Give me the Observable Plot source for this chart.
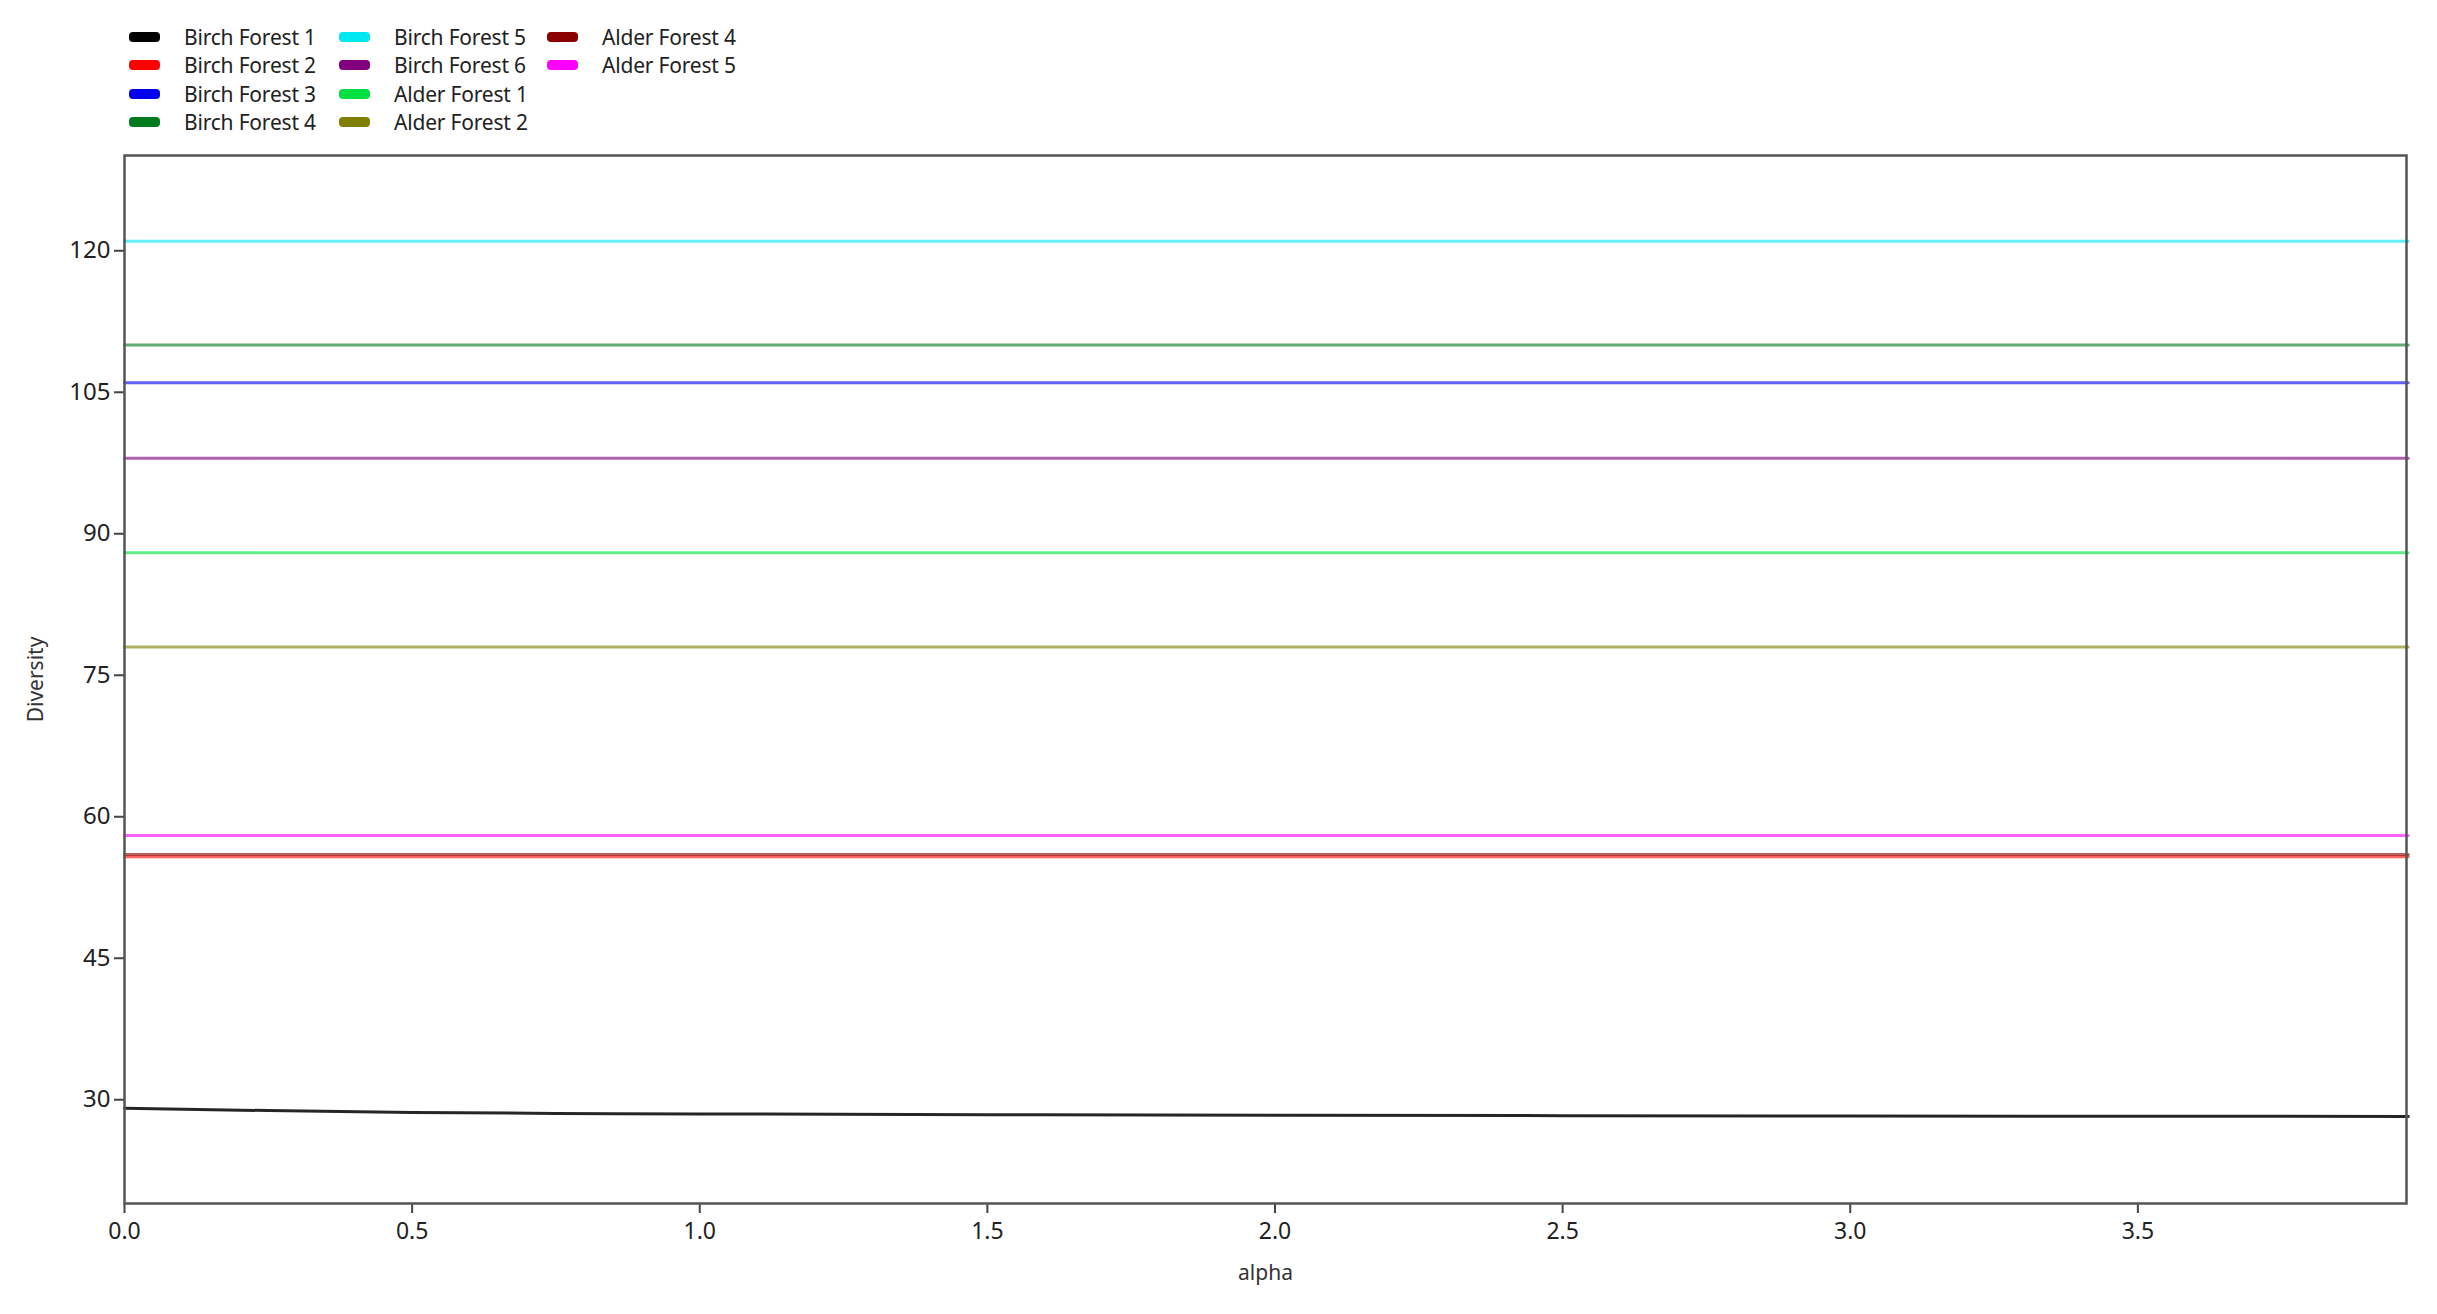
<!DOCTYPE html>
<html>
<head>
<meta charset="utf-8">
<script src="https://cdn.jsdelivr.net/npm/d3@7"></script>
<script src="https://cdn.jsdelivr.net/npm/@observablehq/plot@0.6"></script>
<style>
  html, body { margin: 0; padding: 0; background: #fff; }
  body { width: 2437px; height: 1314px; position: relative; overflow: hidden; font-family: "Noto Sans", "Open Sans", sans-serif; }
  #legend { position: absolute; z-index: 2; left: 129px; top: 23px; display: grid; grid-auto-flow: column; grid-template-rows: repeat(4, 28.3px); grid-template-columns: 210px 208px 200px; }
  .item { display: flex; align-items: center; font-size: 21px; color: #222; white-space: nowrap; letter-spacing: -0.2px; }
  .sw { width: 31px; height: 10px; border-radius: 4px; margin-right: 24px; flex: none; }
  #chart { position: absolute; z-index: 1; left: 0; top: 0; }
</style>
</head>
<body>
<div id="legend"></div>
<div id="chart"></div>
<script>
// Series names (legend order) and colors
const seriesNames = ["Birch Forest 1", "Birch Forest 2", "Birch Forest 3", "Birch Forest 4",
  "Birch Forest 5", "Birch Forest 6", "Alder Forest 1", "Alder Forest 2", "Alder Forest 4", "Alder Forest 5"];
const seriesColors = ["#000000", "#ff0000", "#0000ee", "#007a1e", "#00e8f0", "#800080",
  "#00e040", "#808000", "#8b0000", "#ff00ff"];

// alpha sample points
const alphaValues = [0, 0.25, 0.5, 0.75, 1, 1.5, 2, 2.5, 3, 3.5, 3.97];

// Birch Forest 1 diversity profile
const birch1 = [29.1, 28.85, 28.65, 28.55, 28.5, 28.42, 28.36, 28.31, 28.28, 28.25, 28.23];
// Constant profiles for the other series
const birch2 = 55.75;
const birch3 = 106;
const birch4 = 110;
const birch5 = 121;
const birch6 = 98;
const alder1 = 88;
const alder2 = 78;
const alder4 = 56;
const alder5 = 58;

const yTicks = [30, 45, 60, 75, 90, 105, 120];
const xTicks = [0, 0.5, 1, 1.5, 2, 2.5, 3, 3.5];

const constants = {
  "Birch Forest 2": birch2, "Birch Forest 3": birch3, "Birch Forest 4": birch4,
  "Birch Forest 5": birch5, "Birch Forest 6": birch6, "Alder Forest 1": alder1,
  "Alder Forest 2": alder2, "Alder Forest 4": alder4, "Alder Forest 5": alder5
};

const rows = [];
alphaValues.forEach((a, i) => rows.push({series: "Birch Forest 1", alpha: a, value: birch1[i]}));
for (const [name, v] of Object.entries(constants)) {
  alphaValues.forEach(a => rows.push({series: name, alpha: a, value: v}));
}
const drawOrder = ["Birch Forest 2", "Alder Forest 4", "Alder Forest 5", "Alder Forest 2", "Alder Forest 1",
  "Birch Forest 6", "Birch Forest 3", "Birch Forest 4", "Birch Forest 5", "Birch Forest 1"];
rows.sort((a, b) => drawOrder.indexOf(a.series) - drawOrder.indexOf(b.series));

const chart = Plot.plot({
  width: 2437,
  height: 1314,
  marginTop: 155,
  marginBottom: 111,
  marginLeft: 124,
  marginRight: 31,
  style: {fontFamily: "'Noto Sans', 'Open Sans', sans-serif", fontSize: "23px", color: "#222", background: "#fff"},
  x: {domain: [0, 3.967], ticks: xTicks, tickFormat: d3.format(".1f"), label: null},
  y: {domain: [19, 130.1], ticks: yTicks, label: null},
  color: {domain: seriesNames, range: seriesColors},
  marks: [
    Plot.line(rows, {x: "alpha", y: "value", z: "series", stroke: "series",
      strokeWidth: 3, strokeOpacity: d => d.series === "Birch Forest 1" ? 0.85 : 0.62, curve: "monotone-x"}),
    Plot.axisX({ticks: xTicks, tickFormat: d3.format(".1f"), tickSize: 10, tickPadding: 9, stroke: "#444", strokeWidth: 2, label: null, fontSize: 23}),
    Plot.axisY({ticks: yTicks, tickSize: 10, tickPadding: 4, stroke: "#444", strokeWidth: 2, label: null, fontSize: 24}),
    Plot.frame({stroke: "#555", strokeWidth: 2.5}),
    Plot.text(["alpha"], {frameAnchor: "bottom", dy: 76, fontSize: 21, fill: "#333"}),
    Plot.text(["Diversity"], {frameAnchor: "left", textAnchor: "middle", dx: -88, rotate: -90, fontSize: 21, fill: "#333"})
  ]
});
document.getElementById("chart").appendChild(chart);

const legend = document.getElementById("legend");
seriesNames.forEach((name, i) => {
  const item = document.createElement("div");
  item.className = "item";
  const sw = document.createElement("span");
  sw.className = "sw";
  sw.style.background = seriesColors[i];
  item.appendChild(sw);
  item.appendChild(document.createTextNode(name));
  legend.appendChild(item);
});
</script>
</body>
</html>
